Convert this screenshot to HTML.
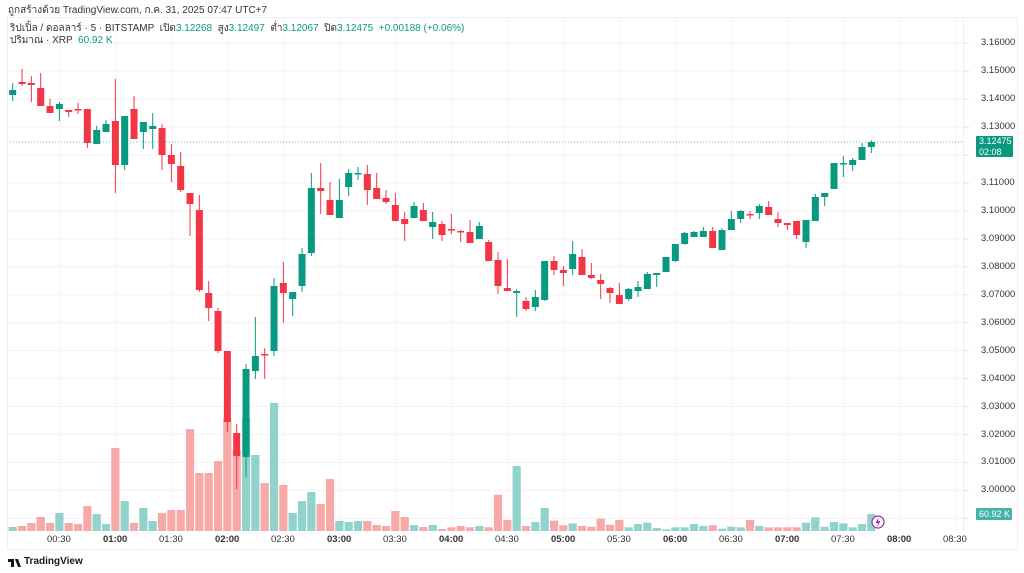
<!DOCTYPE html>
<html><head><meta charset="utf-8">
<style>
html,body{margin:0;padding:0;background:#fff;}
body{width:1024px;height:573px;position:relative;overflow:hidden;font-family:"Liberation Sans","Noto Sans CJK SC",sans-serif;}
.t{position:absolute;white-space:nowrap;}
svg{position:absolute;left:0;top:0;}
.g{color:#089981}
</style></head><body>
<svg id="s" width="1024" height="573" xmlns="http://www.w3.org/2000/svg">
<g id="grid"></g>
<g id="vol"></g>
<g id="cnd"></g>
<line x1="7" y1="142" x2="963" y2="142" stroke="#089981" stroke-width="1" stroke-dasharray="1,2" opacity="0.6"/>
<rect x="7.5" y="17.5" width="1010" height="532" fill="none" stroke="#eceef2"/>
<line x1="963.5" y1="17" x2="963.5" y2="531" stroke="#eceef2"/>
<rect x="976" y="136" width="37" height="21" fill="#089981" rx="1"/>
<rect x="976" y="508" width="36" height="12" fill="#26a69a" opacity="0.85" rx="1"/>
<circle cx="878" cy="522" r="6" fill="#fff" stroke="#9c27b0" stroke-width="1.2"/>
<path d="M879 517 L875.5 523 L878 523 L877 527 L880.5 521 L878 521 Z" fill="#9c27b0"/>
<g transform="translate(8,557)"><path d="M0 2 H6 V10 H3 V5 H0 Z M7 2 H10 L13 10 H10 Z" fill="#131722"/><circle cx="9" cy="3.5" r="1.5" fill="#131722"/></g>
</svg>
<div class="t" style="left:8px;top:3px;font-size:10px;color:#333;">ถูกสร้างด้วย TradingView.com, ก.ค. 31, 2025 07:47 UTC+7</div>
<div class="t" style="left:10px;top:21px;font-size:10px;color:#333;">ริปเปิ้ล / ดอลลาร์ · 5 · BITSTAMP &nbsp;เปิด<span class="g">3.12268</span> &nbsp;สูง<span class="g">3.12497</span> &nbsp;ต่ำ<span class="g">3.12067</span> &nbsp;ปิด<span class="g">3.12475</span> &nbsp;<span class="g">+0.00188 (+0.06%)</span></div>
<div class="t" style="left:10px;top:33px;font-size:10px;color:#333;">ปริมาณ · XRP &nbsp;<span class="g">60.92 K</span></div>
<div id="pl"></div>
<div class="t" style="left:979px;top:136px;font-size:9px;color:#fff;line-height:10.5px;">3.12475<br>02:08</div>
<div class="t" style="left:979px;top:509px;font-size:9px;color:#fff;line-height:10px;">60.92 K</div>
<div class="t" style="left:24px;top:556px;font-size:10px;color:#131722;font-weight:bold;">TradingView</div>
<script>
var NS="http://www.w3.org/2000/svg";
function el(p,t,a){var e=document.createElementNS(NS,t);for(var k in a)e.setAttribute(k,a[k]);p.appendChild(e);return e;}
var grid=document.getElementById('grid'),vol=document.getElementById('vol'),cnd=document.getElementById('cnd');
var pl=document.getElementById('pl');
var prices=["3.16000","3.15000","3.14000","3.13000","3.12000","3.11000","3.10000","3.09000","3.08000","3.07000","3.06000","3.05000","3.04000","3.03000","3.02000","3.01000","3.00000","2.99000"];
for(var i=0;i<prices.length;i++){var y=43.2+i*27.95;
 el(grid,'line',{x1:7,x2:963,y1:y,y2:y,stroke:'#f5f1f4','stroke-width':1});
 el(grid,'line',{x1:963,x2:969,y1:y,y2:y,stroke:'#ddd','stroke-width':1});
 if(i!=4&&i!=17){var d=document.createElement('div');d.className='t';d.style.cssText='left:981px;top:'+(y-6)+'px;font-size:9.5px;color:#333;';d.textContent=prices[i];pl.appendChild(d);}}
var times=["00:30","01:00","01:30","02:00","02:30","03:00","03:30","04:00","04:30","05:00","05:30","06:00","06:30","07:00","07:30","08:00","08:30"];
for(var i=0;i<times.length;i++){var x=60+i*56;
 el(grid,'line',{x1:x,x2:x,y1:17,y2:531,stroke:'#f5f1f4','stroke-width':1});
 var d=document.createElement('div');d.className='t';d.style.cssText='left:'+(x-13)+'px;top:534px;font-size:9.5px;color:#333;'+(i%2==1?'font-weight:bold;':'');d.textContent=times[i];pl.appendChild(d);}
var C=[[95,90,83,101],[82,84,69,86],[83,85,76,102],[88,106,73,106],[106,113,99,113],[109,104,102,121],[110,112,110,117],[109,110,103,114],[109,143,109,148],[144,130,126,144],[132,124,120,132],[121,165,79,193],[165,116,116,170],[109,139,96,139],[132,122,122,149],[129,126,113,149],[128,155,124,170],[155,164,144,182],[166,190,152,192],[193,204,193,236],[210,290,195,292],[293,308,281,321],[311,351,308,353],[351,422,351,432],[433,456,424,489],[457,369,364,477],[371,356,317,379],[354,355,348,379],[351,286,278,356],[283,293,262,323],[299,292,292,316],[286,254,248,292],[253,188,173,256],[188,191,163,214],[200,215,182,215],[218,200,179,218],[187,173,169,196],[174,173,167,180],[174,190,165,205],[188,199,173,199],[198,202,190,204],[205,221,193,221],[219,224,212,241],[218,206,202,218],[210,221,203,221],[227,222,212,239],[224,235,221,241],[229,230,214,234],[231,232,230,242],[232,243,220,243],[239,226,222,239],[242,261,240,261],[260,286,252,294],[288,291,259,291],[293,291,289,317],[301,309,297,311],[307,297,290,311],[300,261,261,301],[261,270,256,275],[270,273,266,286],[269,254,241,275],[257,275,249,275],[275,278,263,279],[280,284,274,299],[288,293,287,303],[295,304,283,304],[299,289,288,301],[291,287,281,297],[289,274,272,289],[275,273,273,287],[272,257,257,272],[261,244,244,262],[244,233,232,245],[237,232,231,237],[237,231,227,237],[231,248,227,248],[250,230,228,250],[230,219,211,230],[219,211,210,223],[214,215,211,219],[213,206,204,219],[207,215,201,215],[219,223,212,227],[223,225,223,230],[221,235,221,239],[242,220,220,248],[221,197,194,221],[197,193,193,206],[189,163,163,189],[164,163,156,177],[165,160,158,171],[160,147,143,160],[147,142,140,153]];
var V=[527,526,523,517,523,513,523,524,506,514,524,448,501,523,508,521,513,510,510,429,473,473,461,418,450,418,455,483,403,485,513,501,492,504,479,521,522,521,521,525,526,511,517,525,527,525,529,527.3,526,527.3,526,527.3,494.7,520,466,526,522,508,520.7,525.3,523.3,526,526.7,518.7,524.7,520,527.3,524,522.7,528,529.3,527.3,527.3,524,526,525.3,528.7,526.7,527.3,520,526,527.3,527.3,527.3,527.3,522.7,517.3,526.7,522,523.3,527.3,524,514];
for(var i=0;i<C.length;i++){var c=C[i],x=12.7+i*9.333,up=c[1]<c[0]||(c[1]==c[0]);
 var col=up?'#089981':'#f23645';
 el(vol,'rect',{x:x-4.1,y:V[i],width:8.2,height:531-V[i],fill:up?'#92d2cc':'#f7a9a8'});
 el(cnd,'line',{x1:x,x2:x,y1:c[2],y2:c[3],stroke:col,'stroke-width':1});
 var t=Math.min(c[0],c[1]),h=Math.max(Math.abs(c[0]-c[1]),1.5);
 el(cnd,'rect',{x:x-3.5,y:t,width:7,height:h,fill:col});}
</script>
</body></html>
